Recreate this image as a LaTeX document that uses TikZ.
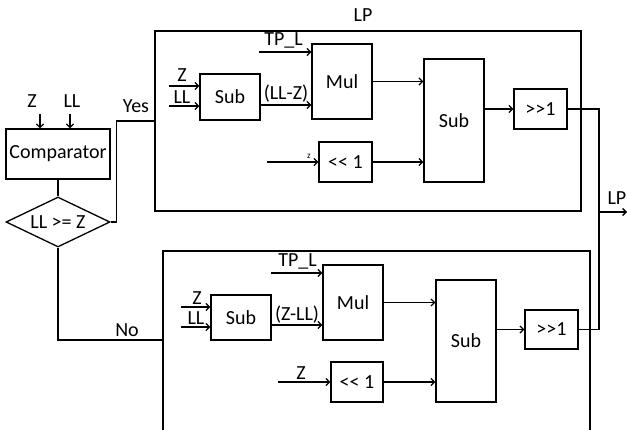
\documentclass[tikz,border=0pt]{standalone}
\usepackage{fontspec}
\setmainfont{Carlito}
\usetikzlibrary{shapes.geometric,arrows.meta}
\begin{document}
\begin{tikzpicture}[x=1pt,y=-1pt,
  font=\fontsize{20}{23}\selectfont,
  box/.style={draw=black, line width=1.3pt, inner sep=0pt},
  wire/.style={line width=1.3pt, draw=black},
  arr/.style={wire, -{Straight Barb[length=3.5pt,width=7pt]}},
  lbl/.style={inner sep=0pt}]
\useasboundingbox (0,0) rectangle (627,430);

% comparator and decision
\node[box, minimum width=104pt, minimum height=50pt] (cmp) at (58,154) {Comparator};
\node[box, diamond, aspect=2, minimum width=104pt, minimum height=50pt] (dia) at (58,222) {LL >= Z};
\coordinate (cz) at (40,114);
\coordinate (cll) at (70,114);
\node[lbl] (czl) at (32,101) {Z};
\node[lbl] (clll) at (72,101) {LL};
\draw[arr] (cz) -- (cz |- cmp.north);
\draw[arr] (cll) -- (cll |- cmp.north);
\draw[wire] (cmp.south) -- (dia.north);

% outer boxes
\node[box, minimum width=426pt, minimum height=180pt] (lptop) at (368,121) {};
\node[lbl] (lptopl) at (363,15) {LP};
\draw[box] (163,470) coordinate (bbl) -- (163,251) coordinate (btl) -- (590,251) coordinate (btr) -- (590,470) coordinate (bbr);

% yes / no branches
\draw[wire] (dia.east) -- ++(6,0) |- (lptop.west);
\node[lbl] (yesl) at (136,106) {Yes};
\coordinate (noj) at (163,340);
\draw[wire] (dia.south) |- (noj);
\node[lbl] (nol) at (127,330) {No};

% ---------- top block ----------
\node[box, minimum width=60pt, minimum height=46pt] (sub1) at (230,97) {Sub};
\node[box, minimum width=60pt, minimum height=75pt] (mul1) at (342,81.5) {Mul};
\node[box, minimum width=53pt, minimum height=40pt] (shl1) at (345.5,162) {<{}< 1};
\node[box, minimum width=60pt, minimum height=123pt] (bsub1) at (454,120.5) {Sub};
\node[box, minimum width=53pt, minimum height=40pt] (shr1) at (540.5,109) {>{}>1};

\coordinate (t1z) at (169,86);
\coordinate (t1ll) at (169,106);
\coordinate (t1tp) at (259,52);
\coordinate (t1zz) at (267,162);
\draw[arr] (t1z) -- (t1z -| sub1.west);
\draw[arr] (t1ll) -- (t1ll -| sub1.west);
\node[lbl] (t1zl) at (182,75) {Z};
\node[lbl] (t1lll) at (182,97) {LL};
\draw[arr] (t1tp) -- (t1tp -| mul1.west);
\node[lbl] (t1tpl) at (283.5,40) {TP\_L};
\coordinate (t1d) at (260,105);
\draw[arr] (t1d -| sub1.east) -- (t1d -| mul1.west);
\node[lbl] (t1dl) at (286,94) {(LL-Z)};
\draw[arr] (t1zz) -- (shl1.west);
\node[lbl, font=\fontsize{9}{10}\selectfont] (t1zzl) at (309,156) {z};
\draw[arr] (mul1.east) -- (mul1.east -| bsub1.west);
\draw[arr] (shl1.east) -- (shl1.east -| bsub1.west);
\draw[arr] (shr1.west -| bsub1.east) -- (shr1.west);

% ---------- bottom block ----------
\node[box, minimum width=60pt, minimum height=45pt] (sub2) at (241,317.5) {Sub};
\node[box, minimum width=60pt, minimum height=75pt] (mul2) at (353,302.5) {Mul};
\node[box, minimum width=52pt, minimum height=40pt] (shl2) at (357,382) {<{}< 1};
\node[box, minimum width=60pt, minimum height=122pt] (bsub2) at (466,341) {Sub};
\node[box, minimum width=53pt, minimum height=39pt] (shr2) at (551.5,329.5) {>{}>1};

\coordinate (b1z) at (181,307);
\coordinate (b1ll) at (181,327);
\coordinate (b1tp) at (271,273);
\coordinate (b1zz) at (278,382);
\draw[arr] (b1z) -- (b1z -| sub2.west);
\draw[arr] (b1ll) -- (b1ll -| sub2.west);
\node[lbl] (b1zl) at (197,298) {Z};
\node[lbl] (b1lll) at (196,318) {LL};
\draw[arr] (b1tp) -- (b1tp -| mul2.west);
\node[lbl] (b1tpl) at (297.5,261) {TP\_L};
\coordinate (b1d) at (271,325);
\draw[arr] (b1d -| sub2.east) -- (b1d -| mul2.west);
\node[lbl] (b1dl) at (297,315) {(Z-LL)};
\draw[arr] (b1zz) -- (shl2.west);
\node[lbl] (b1zzl) at (301,373) {Z};
\draw[arr] (mul2.east) -- (mul2.east -| bsub2.west);
\draw[arr] (shl2.east) -- (shl2.east -| bsub2.west);
\draw[arr] (shr2.west -| bsub2.east) -- (shr2.west);

% ---------- output merge ----------
\coordinate (bus) at (599,212);
\coordinate (outp) at (627,212);
\draw[wire] (shr1.east) -| (bus) |- (shr2.east);
\draw[arr] (bus) -- (outp);
\node[lbl, anchor=east] (outl) at (626.5,198) {LP};
\end{tikzpicture}
\end{document}
